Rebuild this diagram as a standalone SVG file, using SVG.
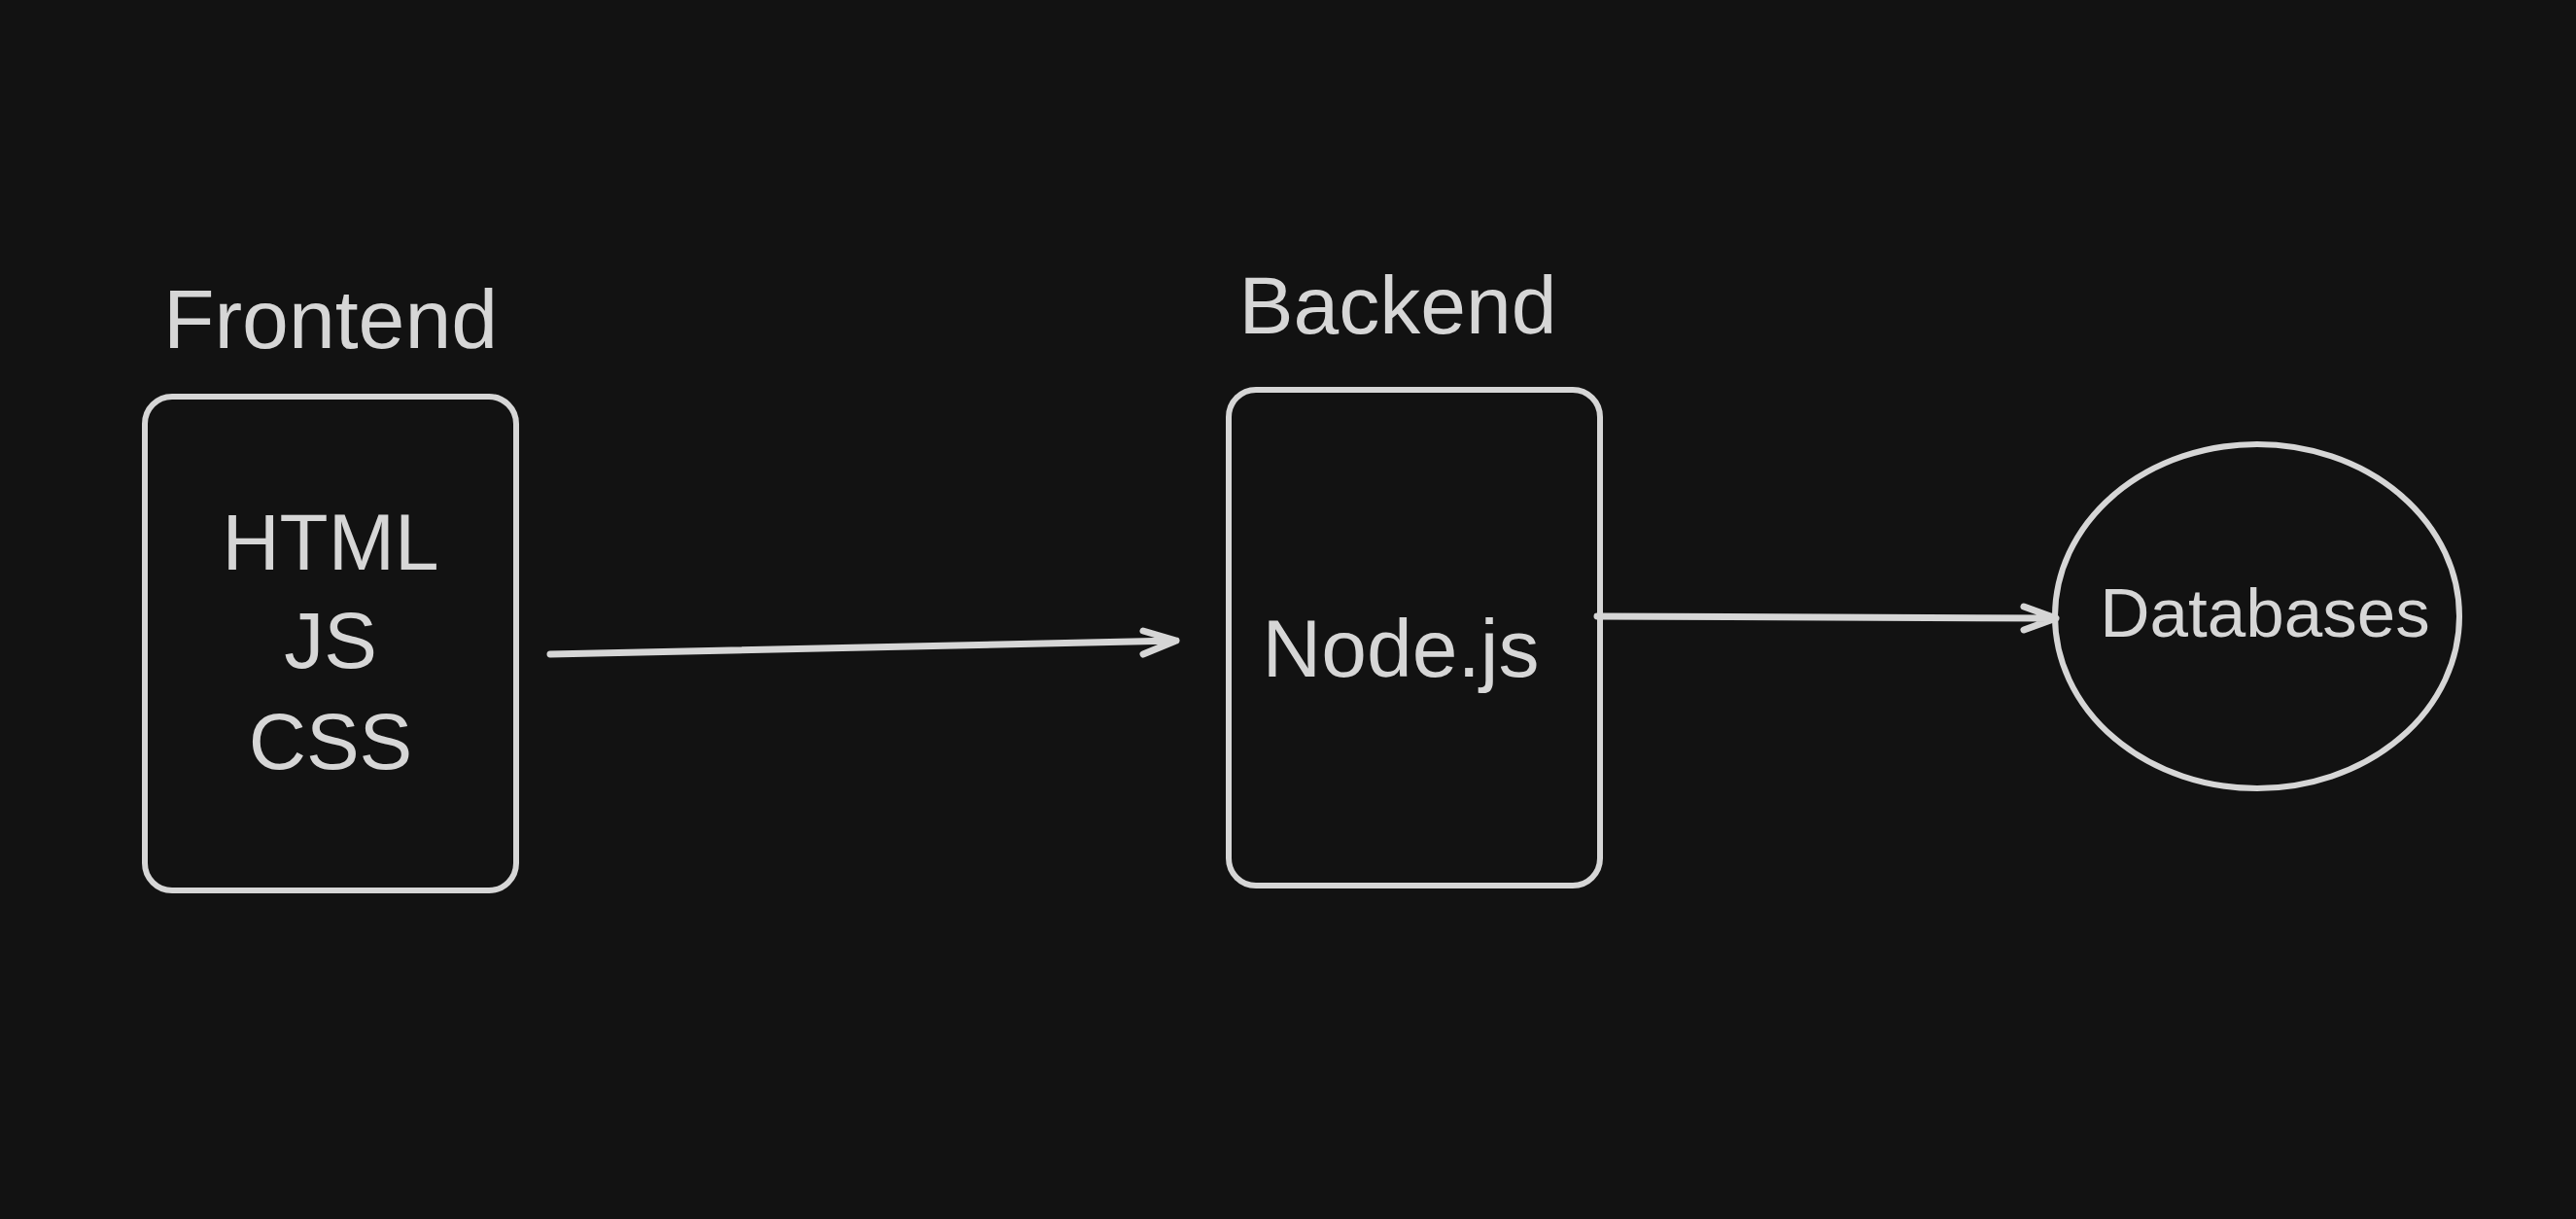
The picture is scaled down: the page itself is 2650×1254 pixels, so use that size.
<svg xmlns="http://www.w3.org/2000/svg" width="2650" height="1254" viewBox="0 0 2650 1254">
<style>
.s{fill:none;stroke:#d6d6d6;stroke-width:6;stroke-linecap:round;stroke-linejoin:round}
.c{fill:none;stroke:#d6d6d6;stroke-width:7;stroke-linecap:round;stroke-linejoin:round}
.t{fill:#d6d6d6;font-family:"Liberation Sans",Arial,sans-serif;text-anchor:middle}
</style>
<rect width="2650" height="1254" fill="#121212"/>
<g id="frontend-label"><text class="t" x="340" y="358" font-size="86">Frontend</text></g>
<g id="frontend">
<rect class="s" x="149" y="408" width="382" height="508" rx="28"/>
<text class="t" x="340" y="586" font-size="82">HTML</text>
<text class="t" x="340" y="687" font-size="82">JS</text>
<text class="t" x="340" y="791" font-size="82">CSS</text>
</g>
<g id="backend-label"><text class="t" x="1438" y="343" font-size="84">Backend</text></g>
<g id="backend">
<rect class="s" x="1264" y="401" width="382" height="510" rx="28"/>
<text class="t" x="1441" y="696" font-size="84">Node.js</text>
</g>
<g id="databases">
<ellipse class="s" cx="2322" cy="634" rx="208" ry="177"/>
<text class="t" x="2330" y="655" font-size="71">Databases</text>
</g>
<g id="connectors">
<path class="c" d="M566 673 L1210 659 M1176 649 L1210 659 L1176 673"/>
<path class="c" d="M1643 634 L2115 636 M2082 624 L2115 636 L2082 648"/>
</g>
</svg>
